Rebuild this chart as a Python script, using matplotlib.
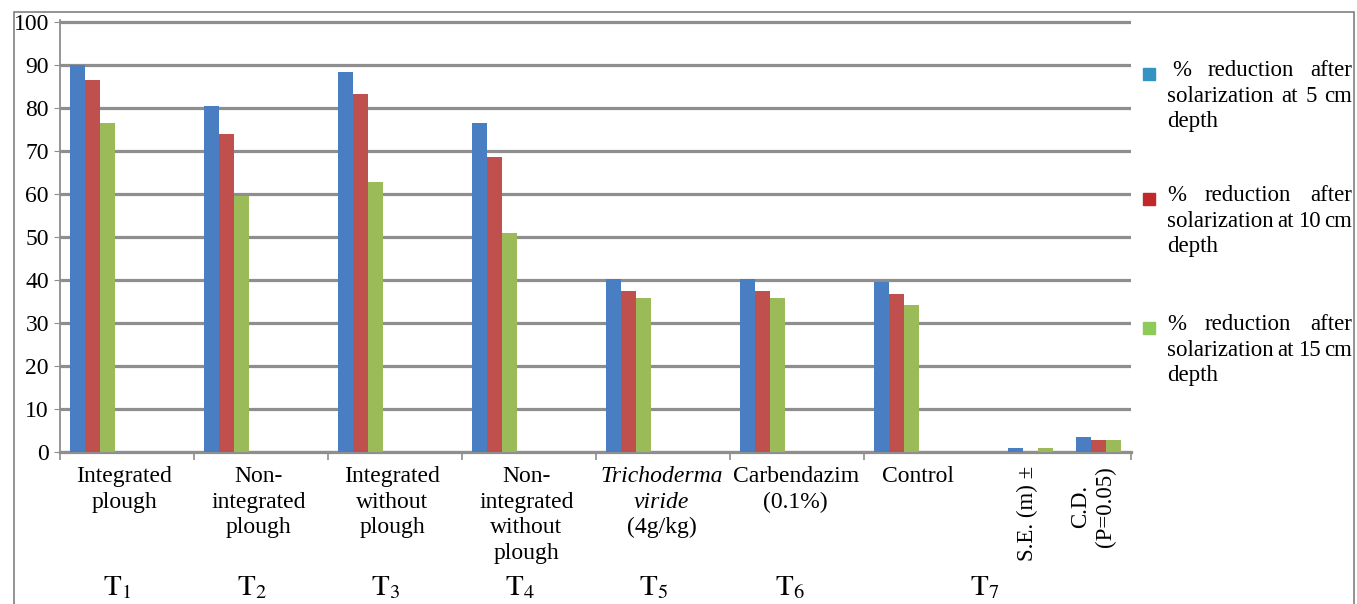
import matplotlib
matplotlib.use("Agg")
from matplotlib import pyplot as plt
from matplotlib.patches import Rectangle
import numpy as np

plt.rcParams['font.family'] = ['Liberation Serif', 'DejaVu Serif']
plt.rcParams['mathtext.fontset'] = 'stix'

# chart data
categories = ["Integrated\nplough", "Non-\nintegrated\nplough", "Integrated\nwithout\nplough",
              "Non-\nintegrated\nwithout\nplough", "Trichoderma\nviride\n(4g/kg)",
              "Carbendazim\n(0.1%)", "Control"]
italic_lines = {4: [0, 1]}  # Trichoderma viride in italics
stat_labels = ["S.E. (m) \u00b1", "C.D.\n(P=0.05)"]
treatment_codes = ["1", "2", "3", "4", "5", "6", "7"]
series_names = ["% reduction after\nsolarization at 5 cm\ndepth",
                "% reduction after\nsolarization at 10 cm\ndepth",
                "% reduction after\nsolarization at 15 cm\ndepth"]
depth_5cm = [90.1, 80.5, 88.4, 76.4, 40.2, 40.2, 39.6, 1.0, 3.6]
depth_10cm = [86.6, 73.9, 83.2, 68.7, 37.5, 37.5, 36.8, 0.0, 2.7]
depth_15cm = [76.4, 59.6, 62.8, 51.0, 35.8, 35.8, 34.3, 1.0, 2.7]
y_ticks = [0, 10, 20, 30, 40, 50, 60, 70, 80, 90, 100]

bar_colors = ['#4A7EC3', '#C0504D', '#9BBB59']
legend_colors = ['#3393C3', '#C0282A', '#8CCB5A']

W, H = 1357, 604
fig = plt.figure(figsize=(W / 100, H / 100), dpi=100)
ytop = 100.4
ax = fig.add_axes([60 / W, (H - 452) / H, (1131 - 60) / W, (430 * ytop / 100) / H])

# slot positions (one slot per treatment, last slot shared by S.E. and C.D.)
group_left = np.r_[np.arange(8), 7.507] + 0.075
bw = 15 / 134
for k, vals in enumerate([depth_5cm, depth_10cm, depth_15cm]):
    ax.bar(group_left + k * bw, vals, bw, align='edge', color=bar_colors[k], zorder=3)

ax.set_xlim(0, 1071 / 134)
ax.set_ylim(0, ytop)
ax.set_yticks(y_ticks)
ax.set_yticklabels([str(v) for v in y_ticks], fontsize=17)
ax.yaxis.grid(True, color='#8E8E8E', linewidth=2.3)
ax.set_axisbelow(True)
ax.tick_params(axis='y', length=4, color='#8E8E8E', pad=4)
ax.set_xticks([0, 1, 2, 3, 4, 5, 6, 1071 / 134])
ax.set_xticklabels([])
ax.tick_params(axis='x', length=6, color='#8E8E8E', width=1.2)
for s in ['top', 'right']:
    ax.spines[s].set_visible(False)
ax.spines['left'].set_color('#8E8E8E')
ax.spines['left'].set_linewidth(1.3)
ax.spines['bottom'].set_color('#8E8E8E')
ax.spines['bottom'].set_linewidth(2.3)

# category labels
label_x = [0.48, 1.48, 2.48, 3.48, 4.49, 5.49, 6.40]
for i, lab in enumerate(categories):
    for j, line in enumerate(lab.split("\n")):
        style = 'italic' if j in italic_lines.get(i, []) else 'normal'
        ax.annotate(line, (label_x[i], H - 482 - j * 25.7), xycoords=('data', 'figure pixels'),
                    ha='center', va='baseline', fontsize=17, fontstyle=style,
                    annotation_clip=False)

# rotated statistic labels
for lab, xc in zip(stat_labels, [7.22, 7.71]):
    ax.annotate(lab, (xc, H - 466), xycoords=('data', 'figure pixels'), rotation=90,
                ha='center', va='top', fontsize=16.5, multialignment='center',
                annotation_clip=False)

# treatment codes T1..T7
code_x = [0.43, 1.43, 2.43, 3.43, 4.43, 5.45, 6.90]
for c, xc in zip(treatment_codes, code_x):
    ax.annotate(r"$\mathrm{T}_{%s}$" % c, (xc, H - 595), xycoords=('data', 'figure pixels'),
                ha='center', va='baseline', fontsize=21, annotation_clip=False)

# legend with justified text
renderer = fig.canvas.get_renderer()


def justified(words, x0, x1, y, size=16.5):
    texts = [fig.text(x0 / W, 1 - y / H, w, fontsize=size, va='baseline') for w in words]
    widths = [t.get_window_extent(renderer).width for t in texts]
    gap = (x1 - x0 - sum(widths)) / (len(words) - 1) if len(words) > 1 else 0
    x = x0
    for t, w in zip(texts, widths):
        t.set_x(x / W)
        x += w + gap


marker_y = [68, 193, 322]
for k, name in enumerate(series_names):
    top = marker_y[k]
    fig.add_artist(Rectangle((1143 / W, 1 - (top + 12) / H), 12 / W, 12 / H,
                             transform=fig.transFigure, color=legend_colors[k]))
    lines = name.split("\n")
    base = top + 8
    for j, line in enumerate(lines):
        x0 = 1172 if (k == 0 and j == 0) else 1167
        if j < len(lines) - 1:
            justified(line.split(" "), x0, 1352, base + j * 25.6)
        else:
            justified([line], x0, 1352, base + j * 25.6)

# outer chart frame
fig.add_artist(Rectangle((14 / W, -3 / H), (1354 - 14) / W, (H - 12 + 3) / H,
                         transform=fig.transFigure, fill=False, edgecolor='#808080',
                         linewidth=1.2))

fig.savefig("out.png", dpi=100)
